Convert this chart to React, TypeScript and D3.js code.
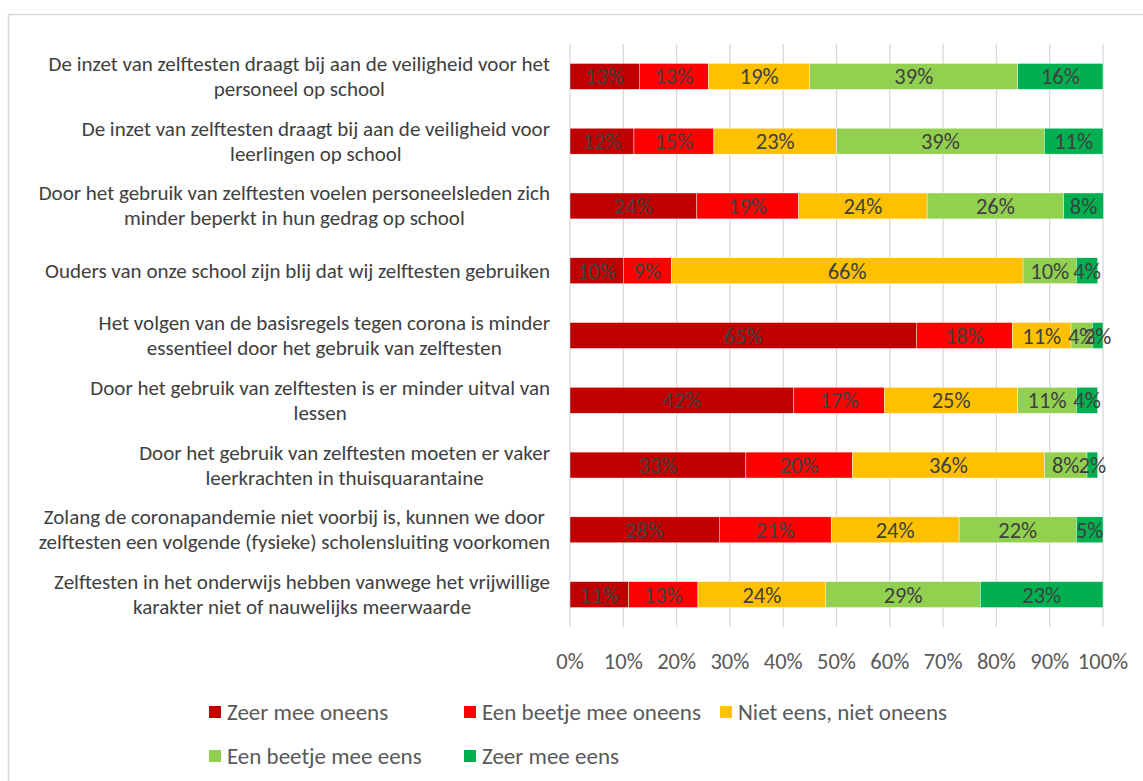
import React, { useEffect, useRef } from 'react';
import * as d3 from 'd3';

// statements (line breaks as in the original chart)
const statements: string[][] = [
    ['De inzet van zelftesten draagt bij aan de veiligheid voor het', 'personeel op school'],
    ['De inzet van zelftesten draagt bij aan de veiligheid voor', 'leerlingen op school'],
    ['Door het gebruik van zelftesten voelen personeelsleden zich', 'minder beperkt in hun gedrag op school'],
    ['Ouders van onze school zijn blij dat wij zelftesten gebruiken'],
    ['Het volgen van de basisregels tegen corona is minder', 'essentieel door het gebruik van zelftesten'],
    ['Door het gebruik van zelftesten is er minder uitval van', 'lessen'],
    ['Door het gebruik van zelftesten moeten er vaker', 'leerkrachten in thuisquarantaine'],
    ['Zolang de coronapandemie niet voorbij is, kunnen we door', 'zelftesten een volgende (fysieke) scholensluiting voorkomen'],
    ['Zelftesten in het onderwijs hebben vanwege het vrijwillige', 'karakter niet of nauwelijks meerwaarde'],
];

const zeerOneens = [13, 12, 23.8, 10, 65, 42, 33, 28, 11];
const beetjeOneens = [13, 15, 19.1, 9, 18, 17, 20, 21, 13];
const neutraal = [19, 23, 24.1, 66, 11, 25, 36, 24, 24];
const beetjeEens = [39, 39, 25.6, 10, 4, 11, 8, 22, 29];
const zeerEens = [16, 11, 7.5, 4, 2, 4, 2, 5, 23];

const seriesNames = ['Zeer mee oneens', 'Een beetje mee oneens', 'Niet eens, niet oneens', 'Een beetje mee eens', 'Zeer mee eens'];
const seriesColors = ['#C00000', '#FF0000', '#FFC000', '#92D050', '#00B050'];
const xTicks = [0, 10, 20, 30, 40, 50, 60, 70, 80, 90, 100];

const W = 1143;
const H = 781;
const FONT = 'Carlito, Calibri, Lato, sans-serif';

const App = () => {
    const ref = useRef<SVGSVGElement>(null);

    useEffect(() => {
        const svg = d3.select(ref.current);
        svg.selectAll('*').remove();

        const plot_x0 = 570;
        const plot_x1 = 1103;
        const plot_y0 = 44;
        const plot_y1 = 627;
        const label_right = 550;

        // chart border
        svg.append('rect')
            .attr('x', 8.5).attr('y', 14.5)
            .attr('width', W + 20).attr('height', H)
            .attr('fill', '#fff')
            .attr('stroke', '#d9d9d9')
            .attr('stroke-width', 1.5);

        const xScale = d3.scaleLinear().domain([0, 100]).range([plot_x0, plot_x1]);
        const yScale = d3.scaleBand<number>()
            .domain(statements.map((_, i) => i))
            .range([plot_y0, plot_y1])
            .paddingInner(0.6)
            .paddingOuter(0.3);

        // gridlines
        svg.append('g').selectAll('line')
            .data(xTicks)
            .enter().append('line')
            .attr('x1', d => xScale(d)).attr('x2', d => xScale(d))
            .attr('y1', plot_y0).attr('y2', plot_y1)
            .attr('stroke', '#d9d9d9')
            .attr('stroke-width', 1.3);

        // tick labels
        svg.append('g').selectAll('text')
            .data(xTicks)
            .enter().append('text')
            .attr('x', d => xScale(d))
            .attr('y', 669)
            .attr('text-anchor', 'middle')
            .style('font-family', FONT)
            .style('font-size', '22.5px')
            .attr('fill', '#595959')
            .text(d => `${d}%`);

        // stacked bars
        const rows = statements.map((_, i) => [zeerOneens[i], beetjeOneens[i], neutraal[i], beetjeEens[i], zeerEens[i]]);
        const stackData = rows.map((r, i) => {
            const o: any = { idx: i };
            seriesNames.forEach((s, k) => { o[s] = r[k]; });
            return o;
        });
        const stacked = d3.stack<any>().keys(seriesNames)(stackData);

        stacked.forEach((layer, k) => {
            const g = svg.append('g');
            g.selectAll('rect')
                .data(layer)
                .enter().append('rect')
                .attr('x', d => xScale(d[0]))
                .attr('y', d => yScale(d.data.idx)!)
                .attr('width', d => xScale(d[1]) - xScale(d[0]))
                .attr('height', yScale.bandwidth())
                .attr('fill', seriesColors[k])
                .attr('stroke', '#fff')
                .attr('stroke-width', 0.4);
        });

        stacked.forEach(layer => {
            svg.append('g').selectAll('text')
                .data(layer)
                .enter().append('text')
                .attr('x', d => (xScale(d[0]) + xScale(d[1])) / 2)
                .attr('y', d => yScale(d.data.idx)! + yScale.bandwidth() / 2 + 8)
                .attr('text-anchor', 'middle')
                .style('font-family', FONT)
                .style('font-size', '22.5px')
                .attr('fill', '#404040')
                .text(d => `${Math.round(d[1] - d[0])}%`);
        });

        // category labels: block right-aligned, lines centred inside the block
        const lineH = 25;
        statements.forEach((lines, i) => {
            const cy = yScale(i)! + yScale.bandwidth() / 2;
            const g = svg.append('g');
            const texts = lines.map((ln, j) => g.append('text')
                .attr('y', cy - ((lines.length - 1) * lineH) / 2 + j * lineH + 7)
                .attr('text-anchor', 'middle')
                .style('font-family', FONT)
                .style('font-size', '21px')
                .attr('fill', '#404040')
                .text(ln));
            const widths = texts.map(t => (t.node() as SVGTextElement).getComputedTextLength());
            const maxW = d3.max(widths) || 0;
            texts.forEach(t => t.attr('x', label_right - maxW / 2));
        });

        // legend
        const legendPos = [
            { x: 209, y: 712 }, { x: 464, y: 712 }, { x: 720, y: 712 },
            { x: 209, y: 756 }, { x: 464, y: 756 },
        ];
        const legend = svg.append('g').selectAll('g')
            .data(seriesNames)
            .enter().append('g')
            .attr('transform', (d, i) => `translate(${legendPos[i].x},${legendPos[i].y})`);
        legend.append('rect')
            .attr('x', 0).attr('y', -6)
            .attr('width', 12).attr('height', 12)
            .attr('fill', (d, i) => seriesColors[i]);
        legend.append('text')
            .attr('x', 18).attr('y', 8)
            .style('font-family', FONT)
            .style('font-size', '23px')
            .attr('fill', '#595959')
            .text(d => d);
    }, []);

    return (
        <svg ref={ref} width={W} height={H}
            style={{ position: 'absolute', left: 0, top: 0, background: '#fff' }} />
    );
};

export default App;
